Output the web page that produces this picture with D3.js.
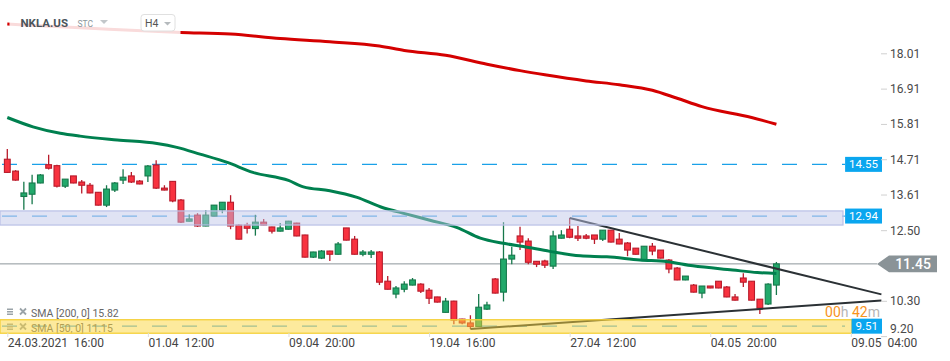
<!DOCTYPE html>
<html><head><meta charset="utf-8">
<script src="https://cdn.jsdelivr.net/npm/d3@7"></script>
<style>
html,body{margin:0;padding:0;background:#fff;}
svg{display:block;font-family:Roboto,"Noto Sans",sans-serif;}
</style></head><body>
<svg id="c" width="950" height="361"></svg>
<script>
const symbol = "NKLA.US";
const market = "STC";
const interval = "H4";

const open  = [14.71,14.34,13.55,13.62,13.97,14.54,14.51,13.87,14.19,14.00,13.90,13.68,13.28,13.75,14.06,14.19,14.03,14.19,14.53,13.81,
               14.02,13.44,12.78,12.97,12.63,12.94,13.13,13.37,12.66,12.66,12.55,12.75,12.60,12.47,12.53,12.72,12.35,11.66,11.63,11.85,
               11.75,12.57,12.22,11.75,11.75,11.82,10.91,10.51,10.66,10.79,10.82,10.63,10.42,9.94,10.29,9.73,9.61,9.50,10.04,10.98,
               10.57,11.60,12.32,12.16,11.53,11.54,11.38,12.25,12.53,12.32,12.32,12.35,12.22,12.50,12.22,12.10,11.94,11.57,12.00,11.88,
               11.57,11.32,10.95,10.79,10.54,10.76,10.91,10.73,10.42,11.01,10.91,10.35,10.20,10.79];
const high  = [15.03,14.37,14.01,14.23,14.25,14.85,14.54,14.09,14.19,14.06,13.97,13.69,13.90,14.00,14.40,14.31,14.06,14.53,14.68,13.90,
               14.03,13.47,13.00,13.03,13.13,13.28,13.37,13.59,12.69,12.73,12.98,12.85,12.61,12.72,12.79,12.73,12.36,11.83,11.88,11.86,
               12.13,12.57,12.32,11.88,11.88,11.85,11.07,10.76,10.91,11.01,10.85,10.70,10.43,10.39,10.30,9.74,9.85,10.51,10.27,11.01,
               12.75,11.98,12.61,12.25,11.54,11.58,12.48,12.50,12.88,12.63,12.38,12.35,12.50,12.50,12.41,12.13,11.94,12.00,12.10,11.88,
               11.60,11.35,11.07,10.82,10.76,10.76,10.91,10.76,10.51,11.16,10.91,10.35,10.85,11.51];
const low   = [14.28,14.04,13.14,13.31,13.96,14.39,13.83,13.81,13.96,13.64,13.65,13.27,13.22,13.69,13.94,13.97,13.93,14.00,13.78,13.74,
               13.37,12.72,12.77,12.60,12.62,12.93,13.03,12.53,12.21,12.40,12.33,12.65,12.40,12.46,12.52,12.31,11.65,11.63,11.60,11.54,
               11.74,12.18,11.74,11.69,11.63,10.79,10.65,10.38,10.57,10.78,10.54,10.20,10.25,9.93,9.57,9.57,9.42,9.49,10.01,10.53,
               10.28,11.44,11.88,11.44,11.35,11.32,11.29,12.24,12.25,12.16,12.22,12.07,12.16,12.12,12.06,11.69,11.74,11.54,11.72,11.62,
               11.16,10.94,10.94,10.56,10.38,10.69,10.69,10.41,10.31,10.73,10.31,9.89,10.17,10.48];
const close = [14.30,14.06,13.66,13.97,14.22,14.43,13.87,14.09,13.97,13.90,13.66,13.28,13.78,13.97,14.15,14.00,13.94,14.50,13.81,13.75,
               13.41,12.75,12.85,12.63,12.97,13.28,13.37,12.63,12.22,12.56,12.75,12.66,12.47,12.57,12.78,12.32,11.66,11.82,11.85,11.75,
               12.07,12.19,11.75,11.82,11.82,10.88,10.66,10.70,10.82,10.95,10.60,10.38,10.26,10.29,9.70,9.61,9.50,10.10,10.17,10.54,
               11.60,11.72,12.13,11.50,11.44,11.41,12.32,12.35,12.28,12.25,12.25,12.22,12.50,12.13,12.07,11.88,11.75,12.00,11.85,11.63,
               11.29,10.95,11.07,10.57,10.76,10.70,10.70,10.42,10.32,10.88,10.32,10.07,10.82,11.45];

// moving averages: [candle index, value]
const sma200 = [[0,18.92],[10,18.79],[21,18.66],[27,18.61],[33,18.47],[39,18.37],[45,18.24],[48,18.10],[53,17.95],[58,17.67],
                [62,17.47],[65,17.34],[70,17.15],[74,17.03],[78,16.86],[81,16.61],[84,16.35],[90,16.01],[93,15.80]];
const sma50  = [[0,16.01],[3.1,15.72],[6.4,15.52],[8.8,15.43],[13.3,15.31],[18.1,15.20],[20.5,15.08],[23.3,14.87],[26.6,14.61],
                [29.7,14.30],[34,14.05],[35.8,13.85],[39,13.73],[42.3,13.52],[45.1,13.23],[48.3,13.00],[51.1,12.81],[54.4,12.58],
                [57.2,12.25],[60,12.09],[62.4,11.99],[65.6,11.84],[69.3,11.70],[72.5,11.67],[76.5,11.57],[79.8,11.52],[82.9,11.39],
                [87.7,11.26],[90.7,11.18],[93,11.15]];
const smaLegend = ["SMA [200,  0]  15.82", "SMA [50,  0]  11.15"];

const yTicks = [18.01,16.91,15.81,14.71,13.61,12.50,10.30,9.20];
const xTickIdx = [0,17,34,51,68,85,102];
const xTickLabels = ["24.03.2021  16:00","01.04  12:00","09.04  20:00","19.04  16:00","27.04  12:00","04.05  20:00","09.05  04:00"];

const lastPrice = 11.45;
const levelValues = [14.55, 12.94, 9.51];
const zoneBlue = [12.66, 13.10];
const zoneYellow = [9.29, 9.71];
const trendUpper = [[68,12.88],[105.7,10.50]];
const trendLower = [[56,9.42],[105.7,10.31]];
const countdown = ["00","h ","42","m"];

const svg = d3.select("#c");
const x = d3.scaleLinear().domain([0,93]).range([7.3,776.4]);
const y = d3.scaleLinear().domain([10.30,18.01]).range([300.8,53.3]);

const GREEN_F="#22a96b", GREEN_S="#16784b", RED_F="#f8323f", RED_S="#b81b2b";

// last price line
svg.append("line").attr("x1",0).attr("x2",877).attr("y1",y(lastPrice)).attr("y2",y(lastPrice))
  .attr("stroke","#8c959a").attr("stroke-width",1);

// dashed level lines
const lvlColors = ["#1aa1e8","#4aaae8","#4aaae8"];
svg.selectAll("line.lvl").data(levelValues).join("line").attr("class","lvl")
  .attr("x1",2).attr("x2",845).attr("y1",d=>y(d)).attr("y2",d=>y(d))
  .attr("stroke",(d,i)=>lvlColors[i]).attr("stroke-width",1.3).attr("stroke-dasharray","15,15");

// candles
const candles = open.map((o,i)=>({i,o,h:high[i],l:low[i],c:close[i]}));
const cg = svg.append("g");
cg.selectAll("line").data(candles).join("line")
  .attr("x1",d=>x(d.i)).attr("x2",d=>x(d.i)).attr("y1",d=>y(d.h)).attr("y2",d=>y(d.l))
  .attr("stroke",d=>d.c>=d.o?GREEN_S:RED_S).attr("stroke-width",1.3);
cg.selectAll("rect").data(candles).join("rect")
  .attr("x",d=>x(d.i)-2.9).attr("width",5.8)
  .attr("y",d=>y(Math.max(d.o,d.c))).attr("height",d=>Math.max(1,Math.abs(y(d.o)-y(d.c))))
  .attr("fill",d=>d.c>=d.o?GREEN_F:RED_F).attr("stroke",d=>d.c>=d.o?GREEN_S:RED_S).attr("stroke-width",1.1);

// moving averages
const ln = d3.line().x(d=>x(d[0])).y(d=>y(d[1])).curve(d3.curveMonotoneX);
svg.append("path").attr("d",ln(sma200)).attr("fill","none").attr("stroke","#d40000").attr("stroke-width",3);
svg.append("path").attr("d",ln(sma50)).attr("fill","none").attr("stroke","#00804f").attr("stroke-width",3);

// trend lines
const tl = d3.line().x(d=>x(d[0])).y(d=>y(d[1]));
[trendUpper,trendLower].forEach(t=>svg.append("path").attr("d",tl(t)).attr("fill","none")
  .attr("stroke","#2b3135").attr("stroke-width",2));

// SMA legend
const lg = svg.append("g");
smaLegend.forEach((t,i)=>{
  const by = 316.5 + i*15;
  const ic = lg.append("g").attr("fill","#9aa3a8");
  ic.append("rect").attr("x",7).attr("y",by-8).attr("width",6).attr("height",1.5);
  ic.append("rect").attr("x",7).attr("y",by-5.5).attr("width",6).attr("height",1.5);
  ic.append("rect").attr("x",7).attr("y",by-3).attr("width",6).attr("height",1.5);
  lg.append("path").attr("d",`M20,${by-8}L26,${by-2}M26,${by-8}L20,${by-2}`).attr("stroke","#9aa3a8").attr("stroke-width",1.8);
  lg.append("text").attr("x",31).attr("y",by).attr("font-size",10.5).attr("fill","#666").text(t);
});

// zones (semi-transparent overlay)
svg.append("rect").attr("x",0).attr("width",843).attr("y",y(zoneBlue[1])).attr("height",y(zoneBlue[0])-y(zoneBlue[1]))
  .attr("fill","rgba(190,197,233,0.48)").attr("stroke","#bac0e6").attr("stroke-width",1.2);
svg.append("rect").attr("x",0).attr("width",852).attr("y",y(zoneYellow[1])).attr("height",y(zoneYellow[0])-y(zoneYellow[1]))
  .attr("fill","rgba(251,213,60,0.5)").attr("stroke","#f5d03a").attr("stroke-width",1.3);

// level label boxes
levelValues.forEach(v=>{
  const g = svg.append("g");
  const t = g.append("text").attr("y",y(v)+4).attr("font-size",11.5).attr("fill","#fff").text(v.toFixed(2));
  const w = t.node().getComputedTextLength()+8;
  g.insert("rect","text").attr("x",882-w).attr("y",y(v)-7.5).attr("width",w).attr("height",15).attr("fill","#0aa6ef");
  t.attr("x",882-w+4);
});

// right axis
const ya = svg.append("g").attr("transform","translate(881,0)")
  .call(d3.axisRight(y).tickValues(yTicks).tickFormat(d3.format(".2f")).tickSize(6).tickPadding(3));
ya.select(".domain").remove();
ya.selectAll("line").attr("stroke","#d0d0d0");
ya.selectAll("text").attr("font-size",12).attr("fill","#4a4a4a").attr("font-family","Roboto")
  .attr("transform",d=>d<9.5?"translate(0,-7)":null);

// last price badge
const py = y(lastPrice);
svg.append("path").attr("d",`M877,${py}L889,${py-8.3}L937,${py-8.3}L937,${py+8.3}L889,${py+8.3}Z`).attr("fill","#8a9397");
svg.append("text").attr("x",913).attr("y",py+5).attr("text-anchor","middle").attr("font-size",14)
  .attr("font-weight",500).attr("fill","#fff").text(lastPrice.toFixed(2));

// bottom axis
const xa = svg.append("g").attr("transform","translate(0,333)")
  .call(d3.axisBottom(x).tickValues(xTickIdx).tickFormat((d,i)=>xTickLabels[i]).tickSize(4).tickPadding(1));
xa.select(".domain").remove();
xa.selectAll("line").attr("stroke","#dcdcdc");
xa.selectAll("text").attr("text-anchor","start").attr("font-size",12).attr("fill","#444")
  .attr("font-family","Roboto").style("white-space","pre");

// countdown
const ct = svg.append("text").attr("x",880).attr("y",317).attr("text-anchor","end").attr("font-size",14)
  .style("white-space","pre");
countdown.forEach((s,i)=>ct.append("tspan").attr("fill",i%2===0?"#f7941d":"#b5b5b5").text(s));

// header overlay
svg.append("rect").attr("x",9.5).attr("y",0).attr("width",171).attr("height",38).attr("fill","#fff").attr("opacity",0.86);
svg.append("text").attr("x",20.5).attr("y",27).attr("font-size",11.5).attr("font-weight",700).attr("fill","#4b555b").text(symbol);
svg.append("text").attr("x",77.5).attr("y",27).attr("font-size",8.5).attr("fill","#8b969c").text(market);
svg.append("path").attr("d","M100,20L108,20L104,24Z").attr("fill","#c2c7ca");
svg.append("rect").attr("x",141).attr("y",14.5).attr("width",34).attr("height",16.5).attr("rx",3)
  .attr("fill","#fff").attr("stroke","#e0e0e0");
svg.append("text").attr("x",145).attr("y",27).attr("font-size",10.5).attr("fill","#555").text(interval);
svg.append("path").attr("d","M164,22L171,22L167.5,25.5Z").attr("fill","#b5babd");
</script>
</body></html>
